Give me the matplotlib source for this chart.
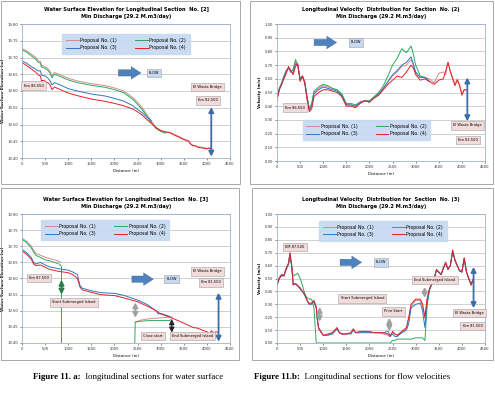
import matplotlib
matplotlib.use("Agg")
import matplotlib.pyplot as plt
from matplotlib.patches import Rectangle

# ---------------- DATA ----------------
# Section 2 water surface elevation
d_w2 = [0, 100, 200, 300, 350, 400, 420, 450, 500, 550, 600, 650, 700, 800, 1000, 1200,
        1500, 1800, 2000, 2200, 2400, 2500, 2600, 2700, 2800, 2900, 3000, 3100]
w2_p1 = [19.727, 19.72, 19.71, 19.70, 19.69, 19.688, 19.676, 19.676, 19.672, 19.668, 19.66,
         19.645, 19.655, 19.65, 19.638, 19.630, 19.622, 19.616, 19.609, 19.60, 19.58, 19.566,
         19.55, 19.53, 19.51, 19.492, 19.482, 19.478]
w2_p2 = [19.723, 19.716, 19.705, 19.695, 19.686, 19.683, 19.671, 19.671, 19.667, 19.663, 19.655,
         19.640, 19.650, 19.645, 19.633, 19.625, 19.617, 19.611, 19.604, 19.595, 19.575, 19.56,
         19.545, 19.525, 19.505, 19.488, 19.479, 19.474]
d_w2b = [0, 100, 200, 300, 350, 400, 420, 450, 500, 550, 600, 650, 700, 800, 1000, 1200,
         1500, 1800, 2000, 2200, 2400, 2500, 2600, 2700, 2800]
w2_p3 = [19.69, 19.683, 19.673, 19.665, 19.66, 19.66, 19.648, 19.646, 19.645, 19.64, 19.632,
         19.618, 19.625, 19.62, 19.607, 19.60, 19.591, 19.585, 19.578, 19.57, 19.556, 19.545,
         19.535, 19.522, 19.51]
d_w2r = [0, 100, 200, 300, 350, 400, 420, 450, 500, 550, 600, 650, 700, 800, 1000, 1200,
         1500, 1800, 2000, 2200, 2400, 2500, 2600, 2700, 2800, 2900, 3000, 3100, 3200, 3300,
         3400, 3500, 3600, 3650, 3700, 3750, 3800, 3900, 4000, 4050, 4100]
w2_p4 = [19.685, 19.676, 19.666, 19.656, 19.648, 19.645, 19.630, 19.632, 19.630, 19.625, 19.62,
         19.604, 19.612, 19.606, 19.594, 19.586, 19.576, 19.569, 19.563, 19.556, 19.546, 19.538,
         19.528, 19.515, 19.503, 19.49, 19.482, 19.478, 19.475, 19.468, 19.462, 19.455, 19.45,
         19.441, 19.436, 19.437, 19.432, 19.430, 19.427, 19.430, 19.428]
w2_p1_tail_d = [3100, 3200, 3300, 3400, 3500, 3600, 3650, 3700, 3800, 3900, 4000, 4100]
w2_p1_tail = [19.478, 19.477, 19.470, 19.464, 19.457, 19.452, 19.443, 19.438, 19.434, 19.432, 19.429, 19.429]

# Section 2 velocity
d_v2 = [0, 50, 100, 150, 200, 250, 300, 350, 400, 450, 500, 550, 600, 650, 700, 750, 800, 900,
        1000, 1100, 1200, 1300, 1400, 1500, 1600, 1700, 1800, 1900, 2000, 2100, 2200, 2300, 2400,
        2500, 2600, 2700, 2800, 2900, 2950, 3000, 3100, 3200, 3300, 3400, 3500, 3600, 3650, 3700,
        3750, 3800, 3850, 3900, 3950, 4000, 4050, 4100]
v2_p4 = [0.45, 0.52, 0.56, 0.60, 0.64, 0.69, 0.66, 0.63, 0.69, 0.71, 0.58, 0.62, 0.57, 0.45,
         0.36, 0.38, 0.47, 0.50, 0.52, 0.52, 0.51, 0.50, 0.47, 0.40, 0.40, 0.39, 0.42, 0.44, 0.43,
         0.46, 0.48, 0.52, 0.56, 0.59, 0.62, 0.61, 0.65, 0.70, 0.68, 0.63, 0.59, 0.60, 0.58, 0.56,
         0.59, 0.60, 0.66, 0.72, 0.65, 0.60, 0.55, 0.59, 0.55, 0.48, 0.52, 0.52]
v2_p1 = [0.45, 0.53, 0.57, 0.62, 0.66, 0.68, 0.65, 0.66, 0.73, 0.69, 0.60, 0.62, 0.58, 0.47,
         0.38, 0.41, 0.50, 0.53, 0.55, 0.54, 0.53, 0.52, 0.49, 0.41, 0.41, 0.40, 0.43, 0.44, 0.43,
         0.46, 0.49, 0.53, 0.58, 0.62, 0.65, 0.69, 0.70, 0.74, 0.70, 0.64, 0.61, 0.61, 0.60, 0.57,
         0.64, 0.65, 0.63, 0.72, 0.66, 0.61, 0.56, 0.60, 0.56, 0.49, 0.52, 0.52]
d_v2s = d_v2[:43]
v2_p2 = [0.45, 0.53, 0.57, 0.62, 0.66, 0.68, 0.65, 0.67, 0.74, 0.70, 0.60, 0.62, 0.58, 0.47,
         0.38, 0.42, 0.51, 0.54, 0.56, 0.55, 0.53, 0.52, 0.49, 0.42, 0.42, 0.41, 0.43, 0.44, 0.44,
         0.47, 0.50, 0.55, 0.62, 0.70, 0.75, 0.82, 0.79, 0.84, 0.78, 0.70, 0.62, 0.61, 0.58]
v2_p3 = [0.45, 0.52, 0.56, 0.61, 0.65, 0.68, 0.65, 0.64, 0.71, 0.70, 0.59, 0.62, 0.57, 0.46,
         0.37, 0.40, 0.49, 0.52, 0.54, 0.53, 0.52, 0.51, 0.48, 0.41, 0.41, 0.40, 0.43, 0.44, 0.43,
         0.46, 0.49, 0.53, 0.58, 0.63, 0.66, 0.70, 0.72, 0.76, 0.71, 0.65, 0.61, 0.61, 0.58]

# Section 3 water surface elevation
d_w3u = [0, 100, 200, 250, 300, 400, 500, 600, 700, 800, 840]
w3_p1 = [19.725, 19.715, 19.70, 19.688, 19.678, 19.672, 19.666, 19.662, 19.658, 19.653, 19.650]
w3_p2 = [19.722, 19.711, 19.695, 19.682, 19.672, 19.665, 19.658, 19.655, 19.650, 19.645, 19.640]
d_w3g2 = [840, 840]
w3_g2 = [19.640, 19.40]
d_w3g3 = [2440, 2450, 2600, 2800, 3000, 3200, 3250]
w3_g3 = [19.40, 19.465, 19.468, 19.470, 19.470, 19.470, 19.475]
d_w3p1b = [2450, 2600, 2800, 3000, 3200, 3250]
w3_p1b = [19.465, 19.472, 19.476, 19.478, 19.480, 19.481]
d_w3l = [0, 100, 200, 250, 300, 400, 500, 600, 700, 800, 900, 1000, 1100, 1200, 1250, 1300,
         1500, 1700, 2000, 2200, 2400, 2500, 2700, 2800, 2900, 2950, 3000, 3200, 3400, 3600,
         3700, 3800, 3900, 4000, 4050, 4100, 4150, 4200, 4250]
w3_p4 = [19.685, 19.675, 19.66, 19.645, 19.64, 19.642, 19.635, 19.628, 19.625, 19.622, 19.62,
         19.618, 19.612, 19.60, 19.575, 19.565, 19.557, 19.55, 19.547, 19.54, 19.532, 19.528,
         19.515, 19.508, 19.50, 19.495, 19.49, 19.48, 19.468, 19.455, 19.448, 19.446, 19.44,
         19.435, 19.428, 19.438, 19.430, 19.435, 19.432]
d_w3b = d_w3l[:28]
w3_p3 = [19.69, 19.68, 19.665, 19.65, 19.645, 19.65, 19.642, 19.636, 19.633, 19.630, 19.628,
         19.626, 19.62, 19.612, 19.58, 19.57, 19.562, 19.556, 19.554, 19.548, 19.538, 19.533,
         19.52, 19.51, 19.50, 19.49, 19.492, 19.482]

# Section 3 velocity
d_v3 = [0, 50, 100, 150, 200, 250, 280, 320, 350, 400, 450, 500, 550, 600, 650, 700, 750, 800,
        850, 870, 900, 1000, 1100, 1200, 1300, 1350, 1400, 1500, 1600, 1650, 1700, 1800, 1900,
        2000, 2100, 2200, 2300, 2400, 2450, 2500, 2550, 2600, 2700, 2800, 2850, 2900, 3000, 3100,
        3150, 3200, 3250, 3300, 3400, 3450, 3500, 3550, 3600, 3650, 3700, 3750, 3800, 3850, 3900,
        3950, 4000, 4050, 4100, 4150, 4200, 4250]
v3_p4 = [0.45, 0.50, 0.53, 0.52, 0.58, 0.62, 0.70, 0.60, 0.45, 0.46, 0.44, 0.43, 0.40, 0.38,
         0.33, 0.30, 0.31, 0.33, 0.28, 0.20, 0.12, 0.06, 0.07, 0.08, 0.12, 0.08, 0.07, 0.07, 0.08,
         0.11, 0.08, 0.09, 0.09, 0.09, 0.08, 0.08, 0.08, 0.07, 0.05, 0.09, 0.07, 0.06, 0.09, 0.12,
         0.20, 0.30, 0.34, 0.34, 0.30, 0.20, 0.35, 0.42, 0.50, 0.57, 0.55, 0.53, 0.58, 0.62, 0.57,
         0.60, 0.72, 0.64, 0.60, 0.56, 0.55, 0.66, 0.55, 0.50, 0.45, 0.50]
v3_p1 = [0.45, 0.51, 0.53, 0.53, 0.58, 0.61, 0.69, 0.59, 0.46, 0.46, 0.45, 0.42, 0.40, 0.37,
         0.33, 0.31, 0.31, 0.32, 0.27, 0.19, 0.11, 0.06, 0.06, 0.08, 0.11, 0.08, 0.07, 0.07, 0.08,
         0.10, 0.08, 0.08, 0.09, 0.08, 0.08, 0.08, 0.07, 0.06, 0.05, 0.08, 0.07, 0.06, 0.08, 0.11,
         0.19, 0.28, 0.33, 0.33, 0.29, 0.19, 0.34, 0.42, 0.50, 0.56, 0.55, 0.53, 0.59, 0.63, 0.58,
         0.60, 0.70, 0.65, 0.60, 0.56, 0.56, 0.65, 0.55, 0.49, 0.46, 0.49]
v3_p3 = [0.45, 0.50, 0.52, 0.52, 0.57, 0.61, 0.69, 0.59, 0.45, 0.46, 0.44, 0.42, 0.40, 0.37,
         0.33, 0.30, 0.30, 0.32, 0.27, 0.19, 0.11, 0.06, 0.06, 0.07, 0.11, 0.08, 0.07, 0.07, 0.07,
         0.10, 0.08, 0.08, 0.08, 0.08, 0.08, 0.08, 0.08, 0.09, 0.06, 0.07, 0.05, 0.05, 0.08, 0.10,
         0.15, 0.27, 0.30, 0.31, 0.25, 0.12, 0.32, 0.42, 0.50, 0.56, 0.55, 0.53, 0.58, 0.62, 0.57,
         0.60, 0.71, 0.64, 0.60, 0.56, 0.55, 0.65, 0.55, 0.50, 0.45, 0.50]
v3_p2 = [0.45, 0.50, 0.53, 0.52, 0.58, 0.62, 0.69, 0.58, 0.52, 0.53, 0.54, 0.50, 0.45, 0.38,
         0.35, 0.34, 0.34, 0.27, 0.00, 0.00, 0.00, 0.00, 0.00, 0.00, 0.00, 0.00, 0.00, 0.00, 0.00,
         0.00, 0.00, 0.00, 0.00, 0.00, 0.00, 0.00, 0.00, 0.00, 0.00, 0.02, 0.02, 0.03, 0.03, 0.03,
         0.03, 0.03, 0.04, 0.04, 0.04, 0.02, 0.30, 0.41, 0.50, 0.57, 0.55, 0.53, 0.58, 0.62, 0.57,
         0.60, 0.72, 0.64, 0.60, 0.56, 0.55, 0.66, 0.55, 0.50, 0.45, 0.50]

labels = ["Proposal No. (1)", "Proposal No. (2)", "Proposal No. (3)", "Proposal No. (4)"]
colors = ["#D58A8A", "#2EAA5E", "#2B78C6", "#E3202A"]
x_ticks = [0, 500, 1000, 1500, 2000, 2500, 3000, 3500, 4000, 4500]
wse_ticks = [19.40, 19.45, 19.50, 19.55, 19.60, 19.65, 19.70, 19.75, 19.80]
vel_ticks = [0.0, 0.1, 0.2, 0.3, 0.4, 0.5, 0.6, 0.7, 0.8, 0.9, 1.0]

titles = ["Water Surface Elevation for Longitudinal Section  No. [2]\nMin Discharge [29.2 M.m3/day)",
          "Longitudinal Velocity  Distribution for  Section  No. (2)\nMin Discharge (29.2 M.m3/day)",
          "Water Surface Elevation for Longitudinal Section  No. [3]\nMin Discharge (29.2 M.m3/day)",
          "Longitudinal Velocity  Distribution for  Section  No. (3)\nMin Discharge (29.2 M.m3/day)"]
captions = ["Figure 11. a:", "  longitudinal sections for water surface",
            "Figure 11.b:", "  Longitudinal sections for flow velocities"]

# ---------------- FIGURE ----------------
W, H = 495, 393
fig = plt.figure(figsize=(W / 100, H / 100), dpi=100)
fig.patch.set_facecolor("white")


def px_axes(x0, y0, x1, y1):
    return fig.add_axes([x0 / W, 1 - y1 / H, (x1 - x0) / W, (y1 - y0) / H])


# panel frames
for (x0, y0, x1, y1) in [(1, 1, 240, 184), (250, 1, 493, 184), (1, 188, 239, 360), (252, 188, 493, 360)]:
    fig.patches.append(Rectangle((x0 / W, 1 - y1 / H), (x1 - x0) / W, (y1 - y0) / H,
                                 transform=fig.transFigure, fill=False, ec="#9A9A9A", lw=0.6))

FS_T = 3.7
FS_K = 2.7


def style(ax, yticks, yfmt, ylabel, title):
    ax.set_xlim(0, 4500)
    ax.set_ylim(yticks[0], yticks[-1])
    ax.set_xticks(x_ticks)
    ax.set_xticklabels([str(t) for t in x_ticks])
    ax.set_yticks(yticks)
    ax.set_yticklabels([yfmt.format(t) for t in yticks])
    ax.tick_params(labelsize=FS_K, length=1.2, width=0.4, pad=1.5, colors="#333333")
    ax.grid(axis="y", color="#BDBDBD", lw=0.5)
    ax.set_axisbelow(True)
    for s in ax.spines.values():
        s.set_color("#9DB3D0")
        s.set_linewidth(0.6)
    ax.set_xlabel("Distance (m)", fontsize=FS_K + 0.2, labelpad=2.5)
    ax.set_ylabel(ylabel, fontsize=FS_K + 0.2, labelpad=2, fontweight="bold")
    ax.set_title(title, fontsize=FS_T, fontweight="bold", pad=4, linespacing=1.6)


def legend(ax, handles, loc):
    # row-wise order: (1) (2) / (3) (4)
    order = [0, 2, 1, 3]
    lg = ax.legend([handles[i] for i in order], [labels[i] for i in order], ncol=2,
                   fontsize=3.3, loc="center", bbox_to_anchor=loc,
                   frameon=True, fancybox=False, handlelength=2.8, columnspacing=4,
                   borderpad=0.8, labelspacing=0.5, handletextpad=0.3)
    lg.get_frame().set_facecolor("#C6D9F1")
    lg.get_frame().set_edgecolor("#C6D9F1")
    lg.get_frame().set_alpha(0.9)


def box(ax, x, y, s, fc="#F2DCDB"):
    ax.text(x, y, s, fontsize=2.6, ha="center", va="center", transform=ax.transAxes,
            bbox=dict(boxstyle="square,pad=0.6", fc=fc, ec="#A0A0A0", lw=0.4))


def flow(ax, x0, x1, y):
    ax.annotate("", xy=(x1, y), xytext=(x0, y), xycoords="axes fraction",
                arrowprops=dict(arrowstyle="simple,head_width=0.9,head_length=0.7,tail_width=0.45",
                                color="#4F81BD", ec="#3B6A9E", lw=0.3))


def darrow(ax, x, y0, y1, color="#3B6EA8", lw=1.3):
    ax.annotate("", xy=(x, y1), xytext=(x, y0), xycoords="axes fraction",
                arrowprops=dict(arrowstyle="<|-|>,head_width=0.15,head_length=0.3",
                                color=color, lw=lw, shrinkA=0, shrinkB=0))


LW = 0.7

# ---- Top-left: WSE section 2
ax = px_axes(22, 24, 230, 158)
h1, = ax.plot(d_w2, w2_p1, color=colors[0], lw=LW)
ax.plot(w2_p1_tail_d, w2_p1_tail, color=colors[0], lw=LW)
h2, = ax.plot(d_w2, w2_p2, color=colors[1], lw=LW)
h3, = ax.plot(d_w2b, w2_p3, color=colors[2], lw=LW)
h4, = ax.plot(d_w2r, w2_p4, color=colors[3], lw=LW)
style(ax, wse_ticks, "{:.2f}", "Water Surface Elevation (m)", titles[0])
legend(ax, [h1, h2, h3, h4], (0.50, 0.85))
box(ax, 0.055, 0.54, "Km 86.550")
flow(ax, 0.45, 0.585, 0.635)
box(ax, 0.635, 0.635, "FLOW", fc="#C6D9F1")
box(ax, 0.89, 0.53, "El Wasta Bridge")
box(ax, 0.895, 0.43, "Km 82.500")
darrow(ax, 0.91, 0.38, 0.01)

# ---- Top-right: velocity section 2
ax = px_axes(277, 24, 485, 161)
h1, = ax.plot(d_v2, v2_p1, color=colors[0], lw=LW)
h2, = ax.plot(d_v2s, v2_p2, color=colors[1], lw=LW)
h3, = ax.plot(d_v2s, v2_p3, color=colors[2], lw=LW)
h4, = ax.plot(d_v2, v2_p4, color=colors[3], lw=LW)
style(ax, vel_ticks, "{:.2f}", "Velocity (m/s)", titles[1])
legend(ax, [h1, h2, h3, h4], (0.43, 0.226))
box(ax, 0.085, 0.39, "Km 86.550")
flow(ax, 0.165, 0.30, 0.865)
box(ax, 0.38, 0.865, "FLOW", fc="#C6D9F1")
box(ax, 0.915, 0.26, "El Wasta Bridge")
box(ax, 0.92, 0.155, "Km 82.500")
darrow(ax, 0.915, 0.61, 0.29)

# ---- Bottom-left: WSE section 3
ax = px_axes(22, 214, 230, 343)
h1, = ax.plot(d_w3u, w3_p1, color=colors[0], lw=LW)
ax.plot(d_w3p1b, w3_p1b, color=colors[0], lw=LW)
h2, = ax.plot(d_w3u, w3_p2, color=colors[1], lw=LW)
ax.plot(d_w3g2, w3_g2, color=colors[1], lw=LW)
ax.plot(d_w3g3, w3_g3, color=colors[1], lw=LW)
h3, = ax.plot(d_w3b, w3_p3, color=colors[2], lw=LW)
h4, = ax.plot(d_w3l, w3_p4, color=colors[3], lw=LW)
style(ax, wse_ticks, "{:.2f}", "Water Surface Elevation (m)", titles[2])
legend(ax, [h1, h2, h3, h4], (0.40, 0.875))
box(ax, 0.08, 0.505, "Km 87.500")
darrow(ax, 0.19, 0.49, 0.375, color="#2E7D4A")
box(ax, 0.25, 0.315, "Start Submerged Island")
flow(ax, 0.515, 0.645, 0.495)
box(ax, 0.72, 0.495, "FLOW", fc="#C6D9F1")
box(ax, 0.89, 0.555, "El Wasta Bridge")
box(ax, 0.91, 0.47, "Km 81.500")
darrow(ax, 0.945, 0.39, 0.01)
darrow(ax, 0.545, 0.315, 0.195, color="#A0A0A0")
box(ax, 0.63, 0.055, "Close start")
darrow(ax, 0.72, 0.185, 0.08, color="#222222", lw=0.9)
box(ax, 0.82, 0.055, "End Submerged Island")

# ---- Bottom-right: velocity section 3
ax = px_axes(277, 214, 485, 343)
h1, = ax.plot(d_v3, v3_p1, color=colors[0], lw=LW)
h2, = ax.plot(d_v3, v3_p2, color=colors[1], lw=LW)
h3, = ax.plot(d_v3, v3_p3, color=colors[2], lw=LW)
h4, = ax.plot(d_v3, v3_p4, color=colors[3], lw=LW)
style(ax, vel_ticks, "{:.2f}", "Velocity (m/s)", titles[3])
legend(ax, [h1, h2, h3, h4], (0.51, 0.87))
box(ax, 0.085, 0.745, "KM 87.500")
flow(ax, 0.29, 0.42, 0.625)
box(ax, 0.5, 0.625, "FLOW", fc="#C6D9F1")
box(ax, 0.41, 0.345, "Start Submerged Island")
darrow(ax, 0.205, 0.28, 0.165, color="#A0A0A0")
box(ax, 0.56, 0.245, "Prim Start")
darrow(ax, 0.54, 0.195, 0.09, color="#A0A0A0")
box(ax, 0.76, 0.49, "End Submerged Island")
darrow(ax, 0.71, 0.435, 0.35, color="#A0A0A0")
box(ax, 0.925, 0.23, "El Wasta Bridge")
box(ax, 0.94, 0.13, "Km 81.500")
darrow(ax, 0.945, 0.59, 0.27)

# ---- captions
cfs = 6.4
t1 = fig.text(33 / W, 1 - 377 / H, captions[0], fontsize=cfs, fontweight="bold",
              family="Liberation Serif", va="center", ha="left")
fig.canvas.draw()
bb = t1.get_window_extent()
fig.text(bb.x1 / (W), 1 - 377 / H, captions[1], fontsize=cfs, family="Liberation Serif",
         va="center", ha="left")
t3 = fig.text(254 / W, 1 - 377 / H, captions[2], fontsize=cfs, fontweight="bold",
              family="Liberation Serif", va="center", ha="left")
fig.canvas.draw()
bb = t3.get_window_extent()
fig.text(bb.x1 / W, 1 - 377 / H, captions[3], fontsize=cfs, family="Liberation Serif",
         va="center", ha="left")

fig.savefig("out.png", dpi=100)
